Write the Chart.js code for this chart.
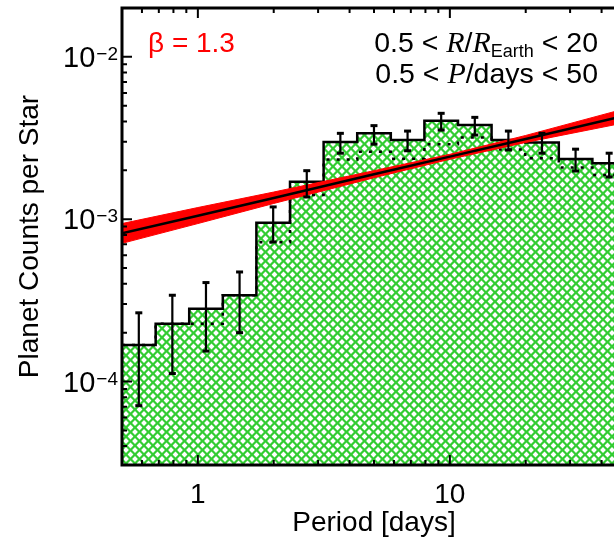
<!DOCTYPE html>
<html>
<head>
<meta charset="utf-8">
<script src="https://cdn.jsdelivr.net/npm/chart.js@4"></script>
<style>
  html, body { margin: 0; padding: 0; background: #fff; overflow: hidden; }
  #wrap { width: 640px; height: 543px; }
</style>
</head>
<body>
<div id="wrap"><canvas id="periodChart" width="640" height="543"></canvas></div>
<script>
// bins in orbital period (days), log spaced 0.5 - 50
const binEdges = [0.5, 0.680, 0.924, 1.256, 1.707, 2.321, 3.155, 4.289, 5.830, 7.924, 10.77, 14.64, 19.91, 27.06, 36.78, 50];
const binCenters = [0.583, 0.792, 1.077, 1.464, 1.990, 2.705, 3.677, 4.999, 6.795, 9.237, 12.56, 17.07, 23.20, 31.54, 42.87];

// planet counts per star (solid histogram) and the dotted one
const counts = [1.68e-4, 2.27e-4, 2.81e-4, 3.40e-4, 9.5e-4, 1.70e-3, 2.99e-3, 3.38e-3, 3.07e-3, 4.04e-3, 3.80e-3, 3.07e-3, 2.97e-3, 2.35e-3, 2.21e-3];
const countsDotted = [1.68e-4, 2.27e-4, 2.27e-4, 3.40e-4, 7.2e-4, 1.41e-3, 2.33e-3, 2.60e-3, 2.36e-3, 2.90e-3, 3.19e-3, 2.69e-3, 2.37e-3, 2.08e-3, 1.87e-3];
const errLow = [7.1e-5, 1.12e-4, 1.54e-4, 2.0e-4, 7.24e-4, 1.37e-3, 2.55e-3, 2.90e-3, 2.64e-3, 3.54e-3, 3.30e-3, 2.67e-3, 2.55e-3, 1.98e-3, 1.82e-3];
const errHigh = [2.65e-4, 3.4e-4, 4.07e-4, 4.73e-4, 1.19e-3, 1.99e-3, 3.38e-3, 3.77e-3, 3.49e-3, 4.49e-3, 4.24e-3, 3.49e-3, 3.38e-3, 2.70e-3, 2.55e-3];

// power law fit and its uncertainty band
const fitP = [0.5, 1, 2, 5, 10, 20, 50];
const fitMid = [8.2e-4, 1.05e-3, 1.35e-3, 1.89e-3, 2.43e-3, 3.12e-3, 4.36e-3];
const bandHigh = [9.4e-4, 1.18e-3, 1.47e-3, 1.99e-3, 2.51e-3, 3.28e-3, 4.81e-3];
const bandLow = [7.1e-4, 0.94e-3, 1.25e-3, 1.80e-3, 2.34e-3, 2.97e-3, 3.94e-3];

// axis ticks
const xMajorTicks = [1, 10];
const xMinorTicks = [0.6, 0.7, 0.8, 0.9, 2, 3, 4, 5, 6, 7, 8, 9, 20, 30, 40, 50];
const yMajorTicks = [1e-4, 1e-3, 1e-2];
const yMinorTicks = [4e-5, 5e-5, 6e-5, 7e-5, 8e-5, 9e-5, 2e-4, 3e-4, 4e-4, 5e-4, 6e-4, 7e-4, 8e-4, 9e-4,
                     2e-3, 3e-3, 4e-3, 5e-3, 6e-3, 7e-3, 8e-3, 9e-3];
const yTickExp = ['\u22124', '\u22123', '\u22122'];

const SANS = '"Liberation Sans", Arial, Helvetica, sans-serif';
const SERIF = '"Liberation Serif", "Times New Roman", serif';

// green cross hatch
function makeHatch() {
    const tile = document.createElement('canvas');
    tile.width = 9; tile.height = 9;
    const t = tile.getContext('2d');
    t.fillStyle = '#33cc33';
    t.fillRect(0, 0, 9, 9);
    t.fillStyle = '#ffffff';
    const dia = (cx, cy, r) => {
        t.beginPath();
        t.moveTo(cx, cy - r); t.lineTo(cx + r, cy); t.lineTo(cx, cy + r); t.lineTo(cx - r, cy);
        t.closePath(); t.fill();
    };
    [[4.5, 4.5], [0, 0], [9, 0], [0, 9], [9, 9]].forEach(p => dia(p[0], p[1], 2.9));
    return t.createPattern(tile, 'repeat');
}

const steps = vals => binEdges.map((e, i) => ({ x: e, y: vals[Math.min(i, vals.length - 1)] }));
const errPts = [];
binCenters.forEach((c, i) => {
    errPts.push({ x: c, y: errLow[i] }, { x: c, y: errHigh[i] }, { x: c, y: null });
});
const pts = (xs, ys) => xs.map((x, i) => ({ x: x, y: ys[i] }));

const frame = {
    id: 'frame',
    afterDraw(chart) {
        const { ctx, chartArea: a, scales: { x, y } } = chart;
        ctx.save();
        ctx.strokeStyle = '#000';
        ctx.lineWidth = 2;
        ctx.beginPath();
        const xt = (v, len) => {
            const px = x.getPixelForValue(v);
            ctx.moveTo(px, a.bottom); ctx.lineTo(px, a.bottom - len);
            ctx.moveTo(px, a.top); ctx.lineTo(px, a.top + len);
        };
        const yt = (v, len) => {
            const py = y.getPixelForValue(v);
            ctx.moveTo(a.left, py); ctx.lineTo(a.left + len, py);
            ctx.moveTo(a.right, py); ctx.lineTo(a.right - len, py);
        };
        xMajorTicks.forEach(v => xt(v, 10));
        xMinorTicks.forEach(v => xt(v, 5));
        yMajorTicks.forEach(v => yt(v, 10));
        yMinorTicks.forEach(v => yt(v, 5));
        ctx.stroke();

        ctx.lineWidth = 3;
        ctx.strokeRect(a.left, a.top, a.right - a.left, a.bottom - a.top);

        ctx.fillStyle = '#000';
        // x tick labels
        ctx.font = '28px ' + SANS;
        ctx.textAlign = 'center';
        ctx.textBaseline = 'alphabetic';
        xMajorTicks.forEach(v => ctx.fillText(String(v), x.getPixelForValue(v), 503));

        // y tick labels 10^n
        ctx.textAlign = 'left';
        yMajorTicks.forEach((v, i) => {
            const py = y.getPixelForValue(v);
            ctx.font = '19px ' + SANS;
            const ws = ctx.measureText(yTickExp[i]).width;
            ctx.font = '29px ' + SANS;
            const wb = ctx.measureText('10').width;
            const x0 = 117 - ws - wb;
            ctx.fillText('10', x0, py + 10);
            ctx.font = '19px ' + SANS;
            ctx.fillText(yTickExp[i], x0 + wb + 1, py + 3);
        });

        // axis titles
        ctx.font = '28px ' + SANS;
        ctx.textAlign = 'center';
        ctx.fillText('Period [days]', (a.left + a.right) / 2, 531);
        ctx.save();
        ctx.translate(38, (a.top + a.bottom) / 2);
        ctx.rotate(-Math.PI / 2);
        ctx.fillText('Planet Counts per Star', 0, 0);
        ctx.restore();

        // annotations
        ctx.textAlign = 'left';
        ctx.fillStyle = '#ff0000';
        ctx.font = '28px ' + SANS;
        ctx.fillText('\u03b2 = 1.3', 148, 52);

        ctx.fillStyle = '#000';
        const sans = '28.5px ' + SANS, ital = 'italic 30px ' + SERIF, small = '18px ' + SANS;
        const line1 = [['0.5 < ', sans, 0], ['R', ital, 0], ['/', sans, 0], ['R', ital, 0], ['Earth', small, 5], [' < 20', sans, 0]];
        const line2 = [['0.5 < ', sans, 0], ['P', ital, 0], ['/days < 50', sans, 0]];
        const drawRight = (segs, xr, base) => {
            let w = 0;
            segs.forEach(s => { ctx.font = s[1]; w += ctx.measureText(s[0]).width; });
            let cx = xr - w;
            segs.forEach(s => { ctx.font = s[1]; ctx.fillText(s[0], cx, base + s[2]); cx += ctx.measureText(s[0]).width; });
        };
        drawRight(line1, 598, 52);
        drawRight(line2, 598, 83);
        ctx.restore();
    }
};

new Chart(document.getElementById('periodChart'), {
    type: 'line',
    data: {
        datasets: [
            {
                label: 'errors',
                data: errPts,
                borderColor: '#000',
                borderWidth: 2.2,
                spanGaps: false,
                pointStyle: 'line',
                pointRadius: 3.5,
                pointBorderWidth: 3,
                pointBorderColor: '#000',
                fill: false
            },
            {
                label: 'fit',
                data: pts(fitP, fitMid),
                borderColor: '#000',
                borderWidth: 2.5,
                pointRadius: 0,
                fill: false
            },
            {
                label: 'band high',
                data: pts(fitP, bandHigh),
                borderColor: '#ff0000',
                backgroundColor: '#ff0000',
                borderWidth: 1,
                pointRadius: 0,
                fill: '+1'
            },
            {
                label: 'band low',
                data: pts(fitP, bandLow),
                borderColor: '#ff0000',
                borderWidth: 1,
                pointRadius: 0,
                fill: false
            },
            {
                label: 'dotted',
                data: steps(countsDotted),
                stepped: 'before',
                borderColor: '#000',
                borderWidth: 2.5,
                borderDash: [3, 7],
                pointRadius: 0,
                fill: false
            },
            {
                label: 'counts',
                data: steps(counts),
                stepped: 'before',
                borderColor: '#000',
                borderWidth: 2.5,
                backgroundColor: makeHatch(),
                pointRadius: 0,
                fill: 'start'
            }
        ]
    },
    options: {
        responsive: false,
        animation: false,
        layout: { padding: { left: 122, top: 8, right: 14, bottom: 78 } },
        plugins: { legend: { display: false }, tooltip: { enabled: false } },
        scales: {
            x: { type: 'logarithmic', min: 0.5, max: 50, display: false },
            y: { type: 'logarithmic', min: 3.06e-5, max: 0.02, display: false }
        }
    },
    plugins: [frame]
});
</script>
</body>
</html>
